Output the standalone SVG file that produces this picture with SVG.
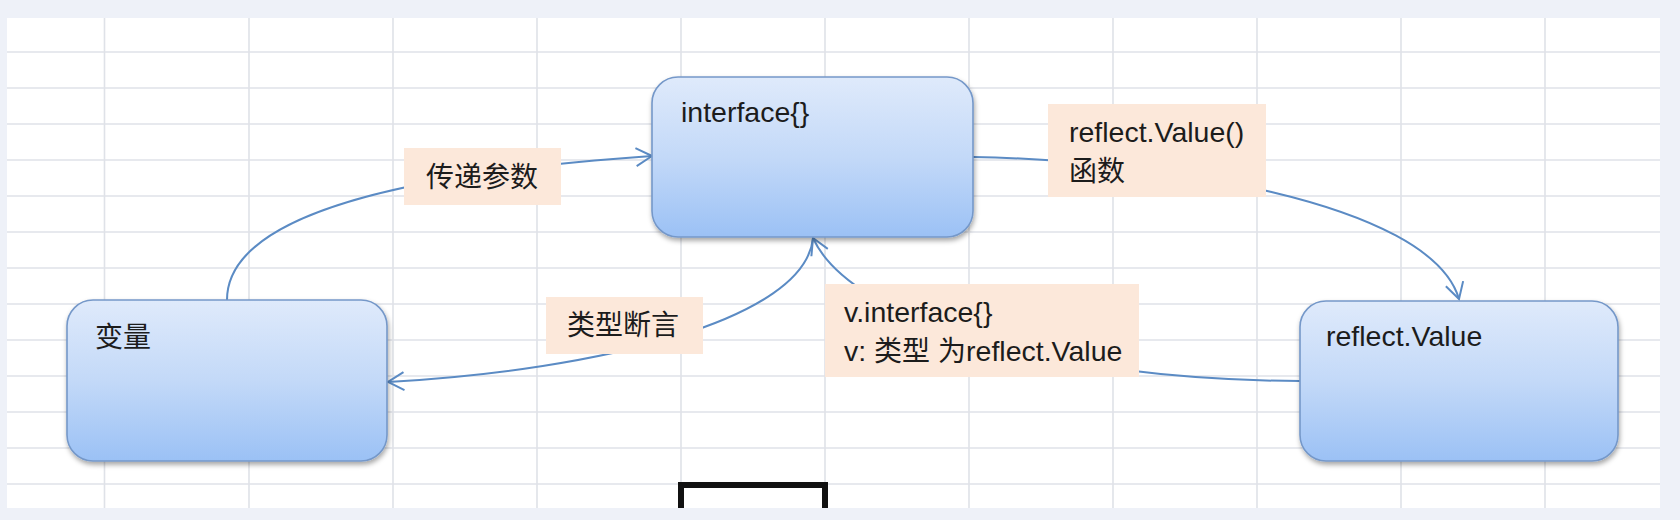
<svg xmlns="http://www.w3.org/2000/svg" width="1680" height="520" viewBox="0 0 1680 520">
<defs>
<linearGradient id="boxGrad" x1="0" y1="0" x2="0" y2="1">
<stop offset="0" stop-color="#dfeafb"/>
<stop offset="0.5" stop-color="#c3d9f8"/>
<stop offset="1" stop-color="#9bc1f5"/>
</linearGradient>
<filter id="shadow" x="-10%" y="-10%" width="125%" height="130%">
<feDropShadow dx="1" dy="3" stdDeviation="2.5" flood-color="#000" flood-opacity="0.35"/>
</filter>
<marker id="arrow" viewBox="-18 -11 20 22" markerWidth="20" markerHeight="22" refX="0" refY="0" orient="auto" markerUnits="userSpaceOnUse">
<path d="M-16,-9 L0,0 L-16,9" fill="none" stroke="#5b8bc4" stroke-width="2"/>
</marker>
<style>
.grid line{stroke:#dfe2e8;stroke-width:1.6}
.node rect{fill:url(#boxGrad);stroke:#7598c9;stroke-width:1.6;filter:url(#shadow)}
.conn{fill:none;stroke:#5b8bc4;stroke-width:2;marker-end:url(#arrow)}
.lbl{fill:#fce8da}
.t{font-family:"Liberation Sans","Noto Sans CJK SC",sans-serif;font-size:28.5px;fill:#1c1c1c}
.cjk{font-family:"Noto Sans CJK SC",sans-serif;font-size:28px}
</style>
</defs>
<rect x="0" y="0" width="1680" height="520" fill="#eef1f8"/>
<rect x="7" y="18" width="1653" height="490" fill="#ffffff"/>
<g class="grid">
<line x1="104.5" y1="18" x2="104.5" y2="508"/>
<line x1="249" y1="18" x2="249" y2="508"/>
<line x1="393" y1="18" x2="393" y2="508"/>
<line x1="537" y1="18" x2="537" y2="508"/>
<line x1="681" y1="18" x2="681" y2="508"/>
<line x1="825" y1="18" x2="825" y2="508"/>
<line x1="969" y1="18" x2="969" y2="508"/>
<line x1="1113" y1="18" x2="1113" y2="508"/>
<line x1="1257" y1="18" x2="1257" y2="508"/>
<line x1="1401" y1="18" x2="1401" y2="508"/>
<line x1="1545" y1="18" x2="1545" y2="508"/>
<line x1="7" y1="52" x2="1660" y2="52"/>
<line x1="7" y1="88" x2="1660" y2="88"/>
<line x1="7" y1="124" x2="1660" y2="124"/>
<line x1="7" y1="160" x2="1660" y2="160"/>
<line x1="7" y1="196" x2="1660" y2="196"/>
<line x1="7" y1="232" x2="1660" y2="232"/>
<line x1="7" y1="268" x2="1660" y2="268"/>
<line x1="7" y1="304" x2="1660" y2="304"/>
<line x1="7" y1="340" x2="1660" y2="340"/>
<line x1="7" y1="376" x2="1660" y2="376"/>
<line x1="7" y1="412" x2="1660" y2="412"/>
<line x1="7" y1="448" x2="1660" y2="448"/>
<line x1="7" y1="484" x2="1660" y2="484"/>
</g>
<g id="connectors">
<path id="c-pass" class="conn" d="M227,300 C227,220 380,175 652,156"/>
<path id="c-assert" class="conn" d="M813,238 C805,320 600,370 388,382"/>
<path id="c-interface" class="conn" d="M1300,381 C1050,380 850,320 813,238"/>
<path id="c-valueof" class="conn" d="M973,157 C1150,160 1430,200 1459,299"/>
</g>
<g id="connector-labels">
<g id="lbl-pass">
<rect class="lbl" x="404" y="148" width="157" height="57"/>
<text class="t" x="426" y="187"><tspan class="cjk" font-size="29">传递参数</tspan></text>
</g>
<g id="lbl-valueof">
<rect class="lbl" x="1048" y="104" width="218" height="93"/>
<text class="t" x="1069" y="142">reflect.Value()<tspan x="1069" y="181" class="cjk">函数</tspan></text>
</g>
<g id="lbl-assert">
<rect class="lbl" x="546" y="297" width="157" height="57"/>
<text class="t" x="567" y="335"><tspan class="cjk" font-size="29">类型断言</tspan></text>
</g>
<g id="lbl-interface">
<rect class="lbl" x="825" y="284" width="314" height="93"/>
<text class="t" x="844" y="322">v.interface{}<tspan x="844" y="361">v: </tspan><tspan class="cjk">类型</tspan> <tspan class="cjk">为</tspan>reflect.Value</text>
</g>
</g>
<g id="node-interface" class="node">
<rect x="652" y="77" width="321" height="160" rx="26" ry="26"/>
<text class="t" x="681" y="122">interface{}</text>
</g>
<g id="node-var" class="node">
<rect x="67" y="300" width="320" height="161" rx="26" ry="26"/>
<text class="t" x="95" y="347"><tspan class="cjk" font-size="29">变量</tspan></text>
</g>
<g id="node-value" class="node">
<rect x="1300" y="301" width="318" height="160" rx="26" ry="26"/>
<text class="t" x="1326" y="346">reflect.Value</text>
</g>
<path id="bracket" d="M681,508 V485 H825 V508" fill="none" stroke="#111111" stroke-width="6"/>
</svg>
